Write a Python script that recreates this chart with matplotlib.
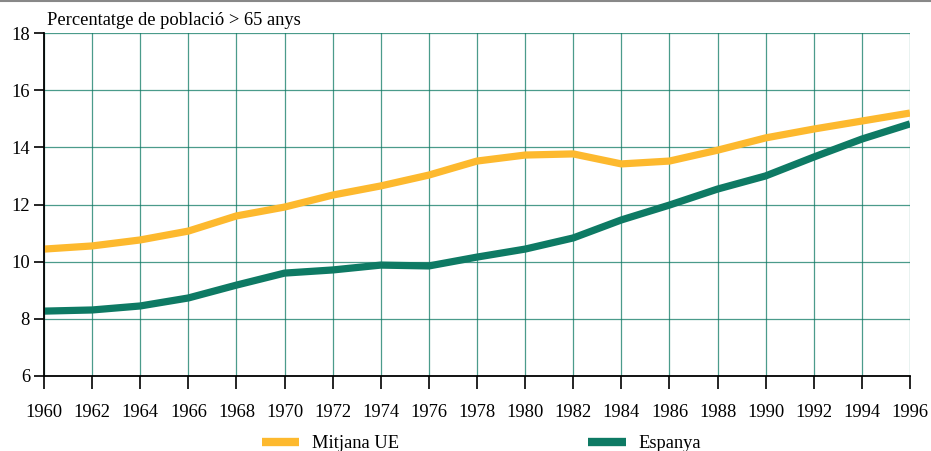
import matplotlib.pyplot as plt
from matplotlib.lines import Line2D

years = [1960, 1962, 1964, 1966, 1968, 1970, 1972, 1974, 1976, 1978,
         1980, 1982, 1984, 1986, 1988, 1990, 1992, 1994, 1996]
mitjana_ue = [10.44, 10.55, 10.76, 11.07, 11.6, 11.91, 12.33, 12.65, 13.03, 13.52,
              13.73, 13.77, 13.42, 13.52, 13.9, 14.33, 14.64, 14.92, 15.2]
espanya = [8.27, 8.31, 8.45, 8.73, 9.18, 9.6, 9.71, 9.88, 9.85, 10.16,
           10.44, 10.83, 11.46, 11.98, 12.54, 13.0, 13.66, 14.29, 14.82]

yellow = '#fdb92e'
green = '#0e7a64'

plt.rcParams['font.family'] = ['Liberation Serif', 'DejaVu Serif']

fig = plt.figure(figsize=(9.31, 4.51), dpi=100)
ax = fig.add_axes([44/931, 1-376/451, (910-44)/931, (376-33)/451])

ax.plot(years, mitjana_ue, color=yellow, lw=5.2, solid_capstyle='butt', zorder=3)
ax.plot(years, espanya, color=green, lw=5.2, solid_capstyle='butt', zorder=3)

ax.set_xlim(1960, 1996)
ax.set_ylim(6, 18)
ax.set_xticks(years)
ax.set_yticks(range(6, 19, 2))
ax.tick_params(axis='both', labelsize=13.3, direction='out', color='black', width=1.2)
ax.tick_params(axis='y', length=7, pad=3)
ax.tick_params(axis='x', length=9, pad=11)
ax.grid(True, color=green, lw=0.9, alpha=0.75)
for s in ['top', 'right']:
    ax.spines[s].set_visible(False)
for s in ['left', 'bottom']:
    ax.spines[s].set_linewidth(1.3)
    ax.spines[s].set_zorder(4)

fig.text(47/931, 1-25/451, 'Percentatge de població > 65 anys', fontsize=13.3, va='baseline')

# grey rule along the top edge
fig.add_artist(Line2D([0, 1], [0.998, 0.998], color='#888888', lw=1.5, transform=fig.transFigure))

handles = [Line2D([], [], color=yellow, lw=6, solid_capstyle='butt'),
           Line2D([], [], color=green, lw=6, solid_capstyle='butt')]
fig.legend(handles, ['Mitjana UE', 'Espanya'], loc='center', bbox_to_anchor=(0.517, 1-444/451),
           ncol=2, frameon=False, fontsize=13.3, handlelength=2.05, columnspacing=10.2,
           handletextpad=0.7)

fig.savefig('out.png', dpi=100)
